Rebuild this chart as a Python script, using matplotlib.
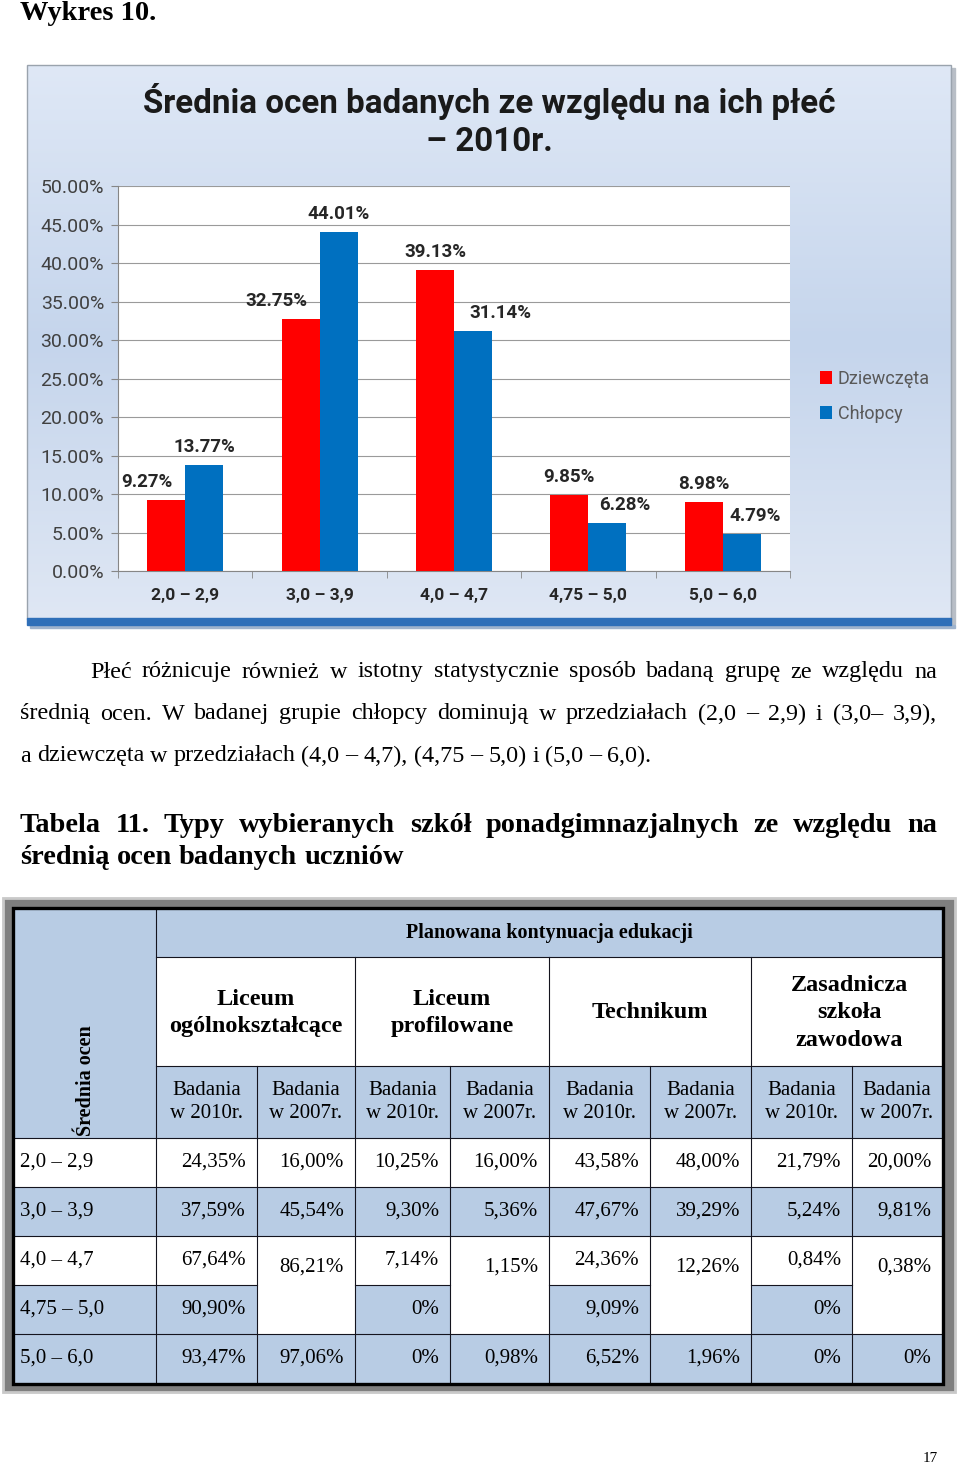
import numpy as np
import matplotlib
matplotlib.use("Agg")
import matplotlib.pyplot as plt
from matplotlib.patches import Rectangle

# ---- dane wykresu ----
przedzialy = ['2,0 – 2,9', '3,0 – 3,9', '4,0 – 4,7', '4,75 – 5,0', '5,0 – 6,0']
dziewczeta = [9.27, 32.75, 39.13, 9.85, 8.98]
chlopcy = [13.77, 44.01, 31.14, 6.28, 4.79]
# przesuniecia etykiet (px), tak jak recznie przesuniete w oryginale
przes_dz = [-19, -24, 0, 0, 0]
przes_ch = [0, 0, 27, 17, 13]

# ---- dane tabeli ----
szkoly = ['Liceum\nogólnokształcące', 'Liceum\nprofilowane', 'Technikum',
          'Zasadnicza\nszkoła\nzawodowa']
badania = ['Badania\nw 2010r.', 'Badania\nw 2007r.'] * 4
wiersze = ['2,0 – 2,9', '3,0 – 3,9', '4,0 – 4,7', '4,75 – 5,0', '5,0 – 6,0']
wartosci = [
    ['24,35%', '16,00%', '10,25%', '16,00%', '43,58%', '48,00%', '21,79%', '20,00%'],
    ['37,59%', '45,54%', '9,30%', '5,36%', '47,67%', '39,29%', '5,24%', '9,81%'],
    ['67,64%', '86,21%', '7,14%', '1,15%', '24,36%', '12,26%', '0,84%', '0,38%'],
    ['90,90%', None, '0%', None, '9,09%', None, '0%', None],
    ['93,47%', '97,06%', '0%', '0,98%', '6,52%', '1,96%', '0%', '0%'],
]
niebieskie_wiersze = [False, True, False, True, True]

akapit = [
    'Płeć różnicuje również w istotny statystycznie sposób badaną grupę ze względu na',
    'średnią ocen. W badanej grupie chłopcy dominują w przedziałach (2,0 – 2,9) i (3,0– 3,9),',
    'a dziewczęta w przedziałach (4,0 – 4,7), (4,75 – 5,0) i (5,0 – 6,0).',
]
naglowek = [
    'Tabela 11. Typy wybieranych szkół ponadgimnazjalnych ze względu na',
    'średnią ocen badanych uczniów',
]

W, H = 960, 1467
fig = plt.figure(figsize=(W / 100, H / 100), dpi=100)
page = fig.add_axes([0, 0, 1, 1])
page.set_xlim(0, W)
page.set_ylim(H, 0)
page.axis('off')
renderer = fig.canvas.get_renderer()

SERIF = 'Liberation Serif'
SANS = 'Roboto'
NIEB = '#b8cce4'


def justuj(line, y, x0, x1, justify=True, **kw):
    words = line.split(' ')
    ts = [page.text(0, y, w, va='center', ha='left', family=SERIF, **kw) for w in words]
    widths = [t.get_window_extent(renderer).width for t in ts]
    if justify and len(words) > 1:
        gap = (x1 - x0 - sum(widths)) / (len(words) - 1)
    else:
        sp = page.text(0, y, 'a a', family=SERIF, **kw)
        sa = page.text(0, y, 'aa', family=SERIF, **kw)
        gap = sp.get_window_extent(renderer).width - sa.get_window_extent(renderer).width
        sp.remove()
        sa.remove()
    x = x0
    for t, wd in zip(ts, widths):
        t.set_x(x)
        x += wd + gap


def dopasuj(t, width):
    wd = t.get_window_extent(renderer).width
    t.set_fontsize(t.get_fontsize() * width / wd)


page.text(20, 14, 'Wykres 10.', family=SERIF, weight='bold', fontsize=20.5,
          va='center', ha='left')

# ---- tlo wykresu ----
stops = np.array([0.0, 0.5, 1.0])
cols = np.array([[223, 232, 246], [197, 213, 236], [223, 231, 244]]) / 255
yy = np.linspace(0, 1, 200)
grad = np.stack([np.interp(yy, stops, cols[:, i]) for i in range(3)], axis=1)[:, None, :]
page.imshow(grad, extent=[27, 951, 619, 65], aspect='auto', zorder=1)
page.add_patch(Rectangle((27, 65), 924, 554, fill=False, edgecolor='#9aa3ad', lw=1, zorder=2))
page.add_patch(Rectangle((951, 68), 4, 556, color='#b8bec6', zorder=1))
page.add_patch(Rectangle((27, 618), 924, 7, color='#2f6fb8', zorder=2))
page.add_patch(Rectangle((30, 625), 925, 3, color='#9fb3cc', zorder=1))

t1 = page.text(489, 102, 'Średnia ocen badanych ze względu na ich płeć', family=SANS,
               weight='bold', fontsize=21, ha='center', va='center', color='#1a1a1a', zorder=3)
dopasuj(t1, 693)
page.text(489, 142, '– 2010r.', family=SANS, weight='bold', fontsize=t1.get_fontsize(),
          ha='center', va='center', color='#1a1a1a', zorder=3)

# ---- wykres slupkowy ----
ax = fig.add_axes([118 / W, 1 - 571 / H, 672 / W, 385 / H])
ax.set_facecolor('white')
x = np.arange(len(przedzialy))
w = 0.283
b1 = ax.bar(x - w / 2, dziewczeta, w, color='#ff0000', label='Dziewczęta', zorder=3)
b2 = ax.bar(x + w / 2, chlopcy, w, color='#0070c0', label='Chłopcy', zorder=3)
for bars, vals, dx in [(b1, dziewczeta, przes_dz), (b2, chlopcy, przes_ch)]:
    for r, v, d in zip(bars, vals, dx):
        ax.annotate(f'{v:.2f}%', (r.get_x() + r.get_width() / 2, v),
                    xytext=(d, 18), textcoords='offset pixels', ha='center', va='center',
                    family=SANS, weight='bold', fontsize=13.5, color='#262626',
                    annotation_clip=False)
ax.set_xlim(-0.5, len(przedzialy) - 0.5)
ax.set_ylim(0, 50)
ax.set_yticks(np.arange(0, 51, 5))
ax.set_yticklabels([f'{v:.2f}%' for v in np.arange(0, 51, 5)], family=SANS,
                   fontsize=14, color='#404040')
ax.set_xticks(x)
ax.set_xticklabels(przedzialy, family=SANS, weight='bold', fontsize=12.5, color='#262626')
ax.set_xticks(np.arange(-0.5, len(przedzialy)), minor=True)
ax.tick_params(axis='x', which='major', length=0, pad=12)
ax.tick_params(axis='x', which='minor', length=5, color='#868686', direction='out')
ax.tick_params(axis='y', length=5, color='#868686', pad=5)
ax.grid(axis='y', color='#9a9a9a', lw=0.8, zorder=0)
for s in ['top', 'right']:
    ax.spines[s].set_visible(False)
for s in ['left', 'bottom']:
    ax.spines[s].set_color('#868686')
leg = ax.legend(loc='upper left', bbox_to_anchor=(1.02, 0.565), frameon=False,
                handlelength=0.7, handleheight=0.7, handletextpad=0.3,
                labelspacing=0.95, prop={'family': SANS, 'size': 13})
for t in leg.get_texts():
    t.set_color('#595959')

# ---- tekst ----
for i, line in enumerate(akapit):
    x0 = 90 if i == 0 else 20
    justuj(line, 672 + 42 * i, x0, 937, justify=(i < 2), fontsize=17.4)
justuj(naglowek[0], 826, 20, 937, weight='bold', fontsize=20.4)
justuj(naglowek[1], 858, 20, 937, justify=False, weight='bold', fontsize=20.4)

# ---- tabela ----
page.add_patch(Rectangle((3, 898), 952, 494, facecolor='#7f7f7f', edgecolor='#c9c9c9', lw=2))
xs = [14, 156, 257, 355, 450, 549, 650, 751, 852, 942]
ys = [1138, 1187, 1236, 1285, 1334, 1383]


def cell(x0, y0, x1, y1, color):
    page.add_patch(Rectangle((x0, y0), x1 - x0, y1 - y0, facecolor=color, lw=0, zorder=2))


cell(14, 909, 942, 1383, 'white')
cell(14, 909, 156, 1138, NIEB)
cell(156, 909, 942, 957, NIEB)
cell(156, 1066, 942, 1138, NIEB)
for r, blue in enumerate(niebieskie_wiersze):
    if blue:
        for c in range(9):
            if r == 3 and c in (2, 4, 6, 8):
                continue
            cell(xs[c], ys[r], xs[c + 1], ys[r + 1], NIEB)

LC = '#14141e'
lw = 0.8
for y in [957, 1066]:
    page.plot([156, 942], [y, y], color=LC, lw=lw, zorder=3)
for y in [1138, 1187, 1236, 1334]:
    page.plot([14, 942], [y, y], color=LC, lw=lw, zorder=3)
for c in [0, 1, 3, 5, 7]:
    page.plot([xs[c], xs[c + 1]], [1285, 1285], color=LC, lw=lw, zorder=3)
page.plot([156, 156], [909, 1383], color=LC, lw=lw, zorder=3)
for xv in [355, 549, 751]:
    page.plot([xv, xv], [957, 1383], color=LC, lw=lw, zorder=3)
for xv in [257, 450, 650, 852]:
    page.plot([xv, xv], [1066, 1383], color=LC, lw=lw, zorder=3)
page.add_patch(Rectangle((12.5, 907.5), 930.5, 476.5, fill=False, edgecolor='black',
                         lw=2.4, zorder=4))

page.text(549, 933, 'Planowana kontynuacja edukacji', family=SERIF, weight='bold',
          fontsize=14.5, ha='center', va='center', zorder=5)
for i, s in enumerate(szkoly):
    page.text((xs[1 + 2 * i] + xs[3 + 2 * i]) / 2 + (3 if i == 3 else 0), 1013, s,
              family=SERIF, weight='bold', fontsize=17.5, ha='center', va='center',
              linespacing=1.38, zorder=5)
for i, s in enumerate(badania):
    page.text((xs[1 + i] + xs[2 + i]) / 2, 1102, s, family=SERIF, fontsize=15,
              ha='center', va='center', linespacing=1.3, zorder=5)
page.text(86, 1136, 'Średnia ocen', family=SERIF, weight='bold', fontsize=14.5,
          rotation=90, ha='center', va='bottom', zorder=5)
for r, (lab, vals) in enumerate(zip(wiersze, wartosci)):
    yc = (ys[r] + ys[r + 1]) / 2
    page.text(20, yc, lab, family=SERIF, fontsize=15, ha='left', va='center', zorder=5)
    for c, v in enumerate(vals):
        if v is None:
            continue
        yv = yc
        if r == 2 and c % 2 == 1:
            yv = yc + 7
        page.text(xs[c + 2] - 11, yv, v, family=SERIF, fontsize=15, ha='right',
                  va='center', zorder=5)

page.text(930, 1459, '17', family=SERIF, fontsize=11, ha='center', va='center')

fig.savefig('out.png', dpi=100)
